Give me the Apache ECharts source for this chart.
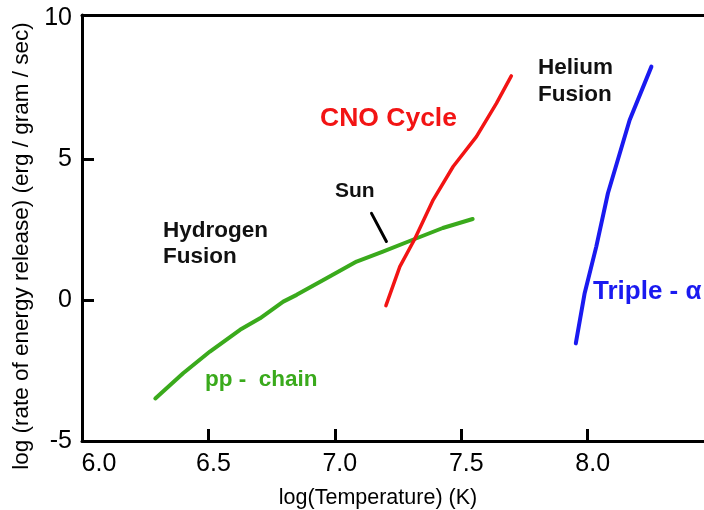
<!DOCTYPE html>
<html>
<head>
<meta charset="utf-8">
<script src="https://cdn.jsdelivr.net/npm/echarts@6/dist/echarts.min.js"></script>
<style>html,body{margin:0;padding:0;background:#fff}#c{width:704px;height:510px}</style>
</head>
<body>
<div id="c"></div>
<script>
var xTickLabels = [6.0, 6.5, 7.0, 7.5, 8.0];
var xTicks = [6.5, 7.0, 7.5, 8.0];
var yTickLabels = [-5, 0, 5, 10];
var yTicks = [0, 5];

var ppChain = [[6.29,-3.49],[6.40,-2.60],[6.506,-1.83],[6.625,-1.06],[6.704,-0.65],[6.796,-0.06],[6.849,0.18],[6.967,0.77],[7.086,1.36],[7.19,1.71],[7.316,2.16],[7.427,2.55],[7.545,2.87]];
var cnoCycle = [[7.202,-0.20],[7.257,1.18],[7.316,2.16],[7.389,3.55],[7.468,4.73],[7.560,5.79],[7.639,6.97],[7.698,7.94]];
var tripleAlpha = [[7.953,-1.54],[7.988,0.24],[8.034,1.89],[8.080,3.78],[8.166,6.38],[8.252,8.27]];
var sunMarker = [[7.145,3.07],[7.204,2.07]];

var FONT = '"Liberation Sans", Arial, sans-serif';
var chart = echarts.init(document.getElementById('c'), null, {renderer:'canvas'});
function lineSeries(data, color, w){
  return {type:'line', data:data, showSymbol:false, symbol:'none', smooth:false,
    lineStyle:{color:color, width:w, cap:'round', join:'round'}, silent:true, animation:false};
}
chart.setOption({
  animation:false,
  backgroundColor:'#fff',
  grid:{left:82, top:15, right:0, bottom:69, containLabel:false, outerBoundsMode:'none'},
  xAxis:[{
    type:'value', min:6.0, max:8.46, position:'bottom',
    name:'log(Temperature) (K)', nameLocation:'middle', nameGap:46,
    nameTextStyle:{fontFamily:FONT, fontSize:21.5, color:'#000', padding:[0,30,0,0]},
    axisLine:{show:true, onZero:false, lineStyle:{color:'#000', width:3}},
    axisTick:{show:true, inside:true, length:12, customValues:xTicks, lineStyle:{color:'#000', width:3}},
    axisLabel:{show:true, customValues:xTickLabels, margin:11, fontFamily:FONT, fontSize:25, color:'#000',
      formatter:function(v){ return v===6 ? '{f|6.0}' : '{n|'+v.toFixed(1)+'}'; },
      rich:{f:{fontFamily:FONT, fontSize:25, color:'#000', padding:[0,0,0,34]},
            n:{fontFamily:FONT, fontSize:25, color:'#000', padding:[0,0,0,10]}}},
    splitLine:{show:false}
  },{
    type:'value', min:6.0, max:8.46, position:'top',
    axisLine:{show:true, onZero:false, lineStyle:{color:'#000', width:3}},
    axisTick:{show:false}, axisLabel:{show:false}, splitLine:{show:false}
  }],
  yAxis:{
    type:'value', min:-5, max:10.1,
    name:'log (rate of energy release) (erg / gram / sec)', nameLocation:'middle', nameGap:48,
    nameTextStyle:{fontFamily:FONT, fontSize:22.5, color:'#000', padding:[0,36,0,0]},
    axisLine:{show:true, onZero:false, lineStyle:{color:'#000', width:3}},
    axisTick:{show:true, inside:true, length:12, customValues:yTicks, lineStyle:{color:'#000', width:3}},
    axisLabel:{show:true, customValues:yTickLabels, margin:10, fontFamily:FONT, fontSize:25, color:'#000'},
    splitLine:{show:false}
  },
  series:[
    lineSeries(ppChain, '#3aaa1c', 4),
    lineSeries(cnoCycle, '#f21414', 3.5),
    lineSeries(tripleAlpha, '#1a1af0', 4),
    lineSeries(sunMarker, '#000', 3)
  ],
  graphic:[
    {type:'text', left:163, top:218, style:{text:'Hydrogen\nFusion', font:'bold 22.5px '+FONT, fill:'#111', lineHeight:26}},
    {type:'text', left:335, top:181, style:{text:'Sun', font:'bold 21px '+FONT, fill:'#111'}},
    {type:'text', left:320, top:105, style:{text:'CNO Cycle', font:'bold 26.5px '+FONT, fill:'#f21414'}},
    {type:'text', left:538, top:54, style:{text:'Helium\nFusion', font:'bold 22.5px '+FONT, fill:'#111', lineHeight:27}},
    {type:'text', left:593, top:279, style:{text:'Triple - \u03b1', font:'bold 26px '+FONT, fill:'#1a1af0'}},
    {type:'text', left:205, top:368, style:{text:'pp -  chain', font:'bold 22.5px '+FONT, fill:'#3aaa1c'}}
  ]
});
</script>
</body>
</html>
